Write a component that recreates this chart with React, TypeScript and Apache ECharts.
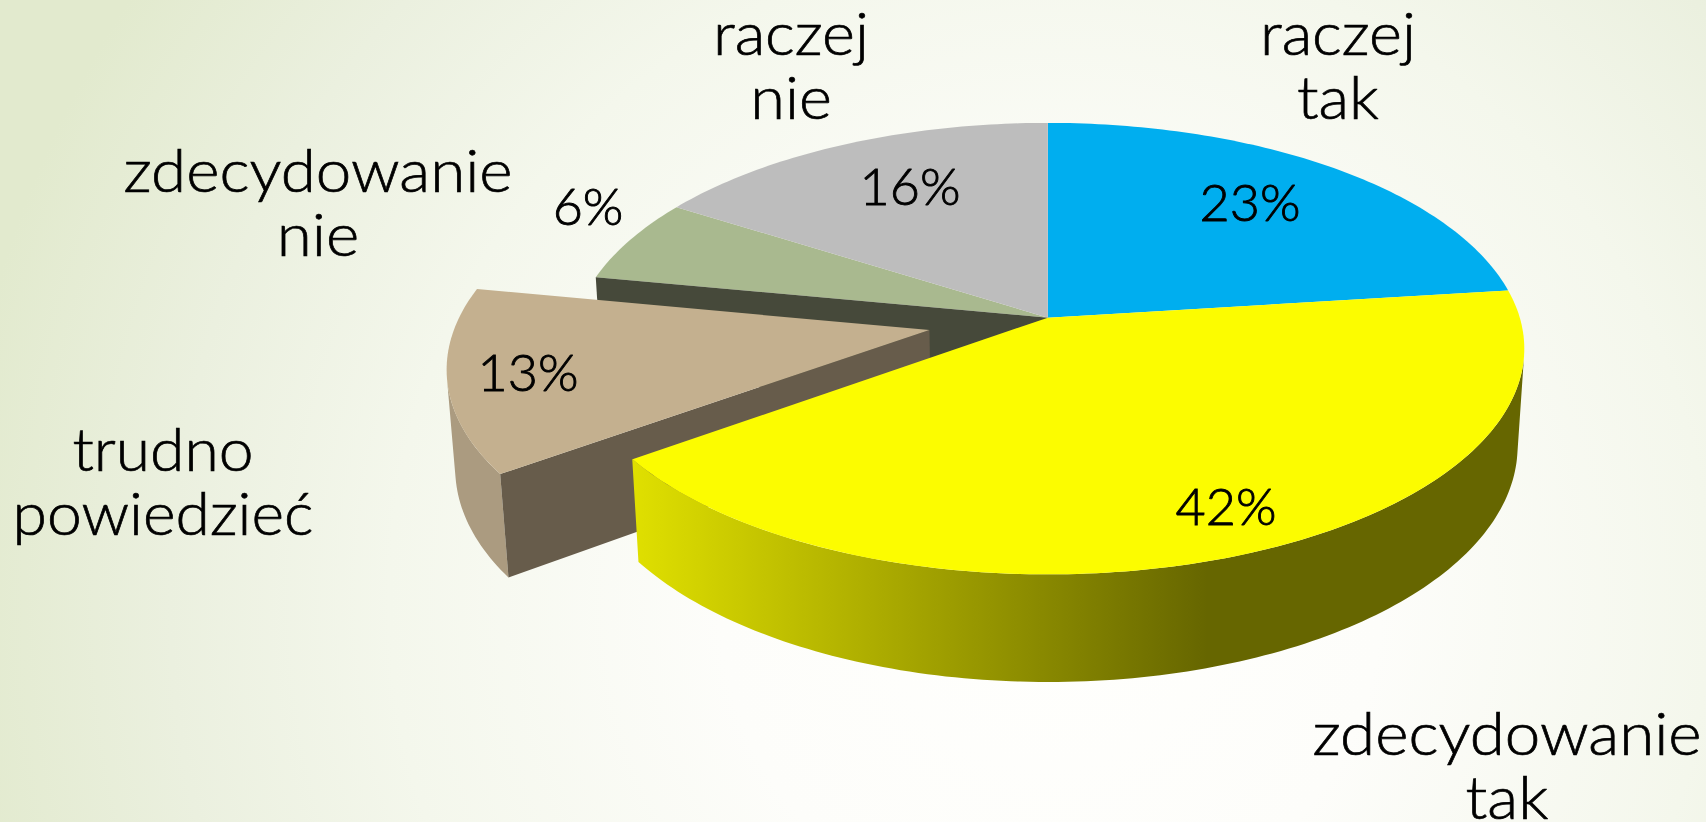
import React, { useEffect, useRef } from "react";
import * as echarts from "echarts";

const categories = ["raczej\ntak", "zdecydowanie\ntak", "trudno\npowiedzieć", "zdecydowanie\nnie", "raczej\nnie"];
const shares = [23, 42, 13, 6, 16];
const explode = [0, 0, 0.255, 0, 0];
const topColors = ["#00AEEF", "#FCFC00", "#C4B08F", "#A9B98F", "#BDBDBD"];

// layout
const W = 1706, H = 822;
const CX = 1047.8, CY = 317.7, RX = 472, RY = 221.5, DEPTH = 98, K = 0.137, M = 0.014;
const FONT = "Lato";
const NAME_SIZE = 60, PCT_SIZE = 52, LINE_H = 64;
const nameScale = [1.05, 1.062, 1.04, 1.062, 1.05];
const PCT_SCALE = 1;
const nameAnchor = [[1338, 54], [1507, 754], [163, 470], [318, 191], [791, 54]];
const pctAnchor = [[1250, 227], [1226, 531], [528, 397], [588, 231], [910, 211]];

const total = shares.reduce((a, b) => a + b, 0);
const TAU = Math.PI * 2;

function proj(u: number, v: number, z: number) {
  const w = 1 - K * v + M * z;
  return [CX + (RX * u) / w, CY + (RY * v + DEPTH * z) / w];
}

function renderItem(params: any, api: any) {
  const i = params.dataIndex;
  const value = api.value(0);
  let before = 0;
  for (let j = 0; j < i; j++) before += shares[j];
  const a0 = (before / total) * TAU;
  const a1 = ((before + value) / total) * TAU;
  const mid = (a0 + a1) / 2;
  const ox = Math.sin(mid) * explode[i];
  const oy = -Math.cos(mid) * explode[i];
  const rim = (a: number, z: number) => proj(Math.sin(a) + ox, -Math.cos(a) + oy, z);
  const hub = (z: number) => proj(ox, oy, z);
  const sweep = (from: number, to: number, z: number) => {
    const n = Math.max(8, Math.round(((to - from) * 180) / Math.PI));
    const pts: number[][] = [];
    for (let s = 0; s <= n; s++) pts.push(rim(from + ((to - from) * s) / n, z));
    return pts;
  };

  const children: any[] = [];
  // The outer wall runs only over the part of the rim that faces the viewer.
  const outerWall = (fill: any, z2: number) => {
    let first = -1;
    let last = -1;
    const d = 0.002;
    for (let a = a0; a < a1; a += d) {
      const t0 = rim(a, 0), t1 = rim(a + d, 0), b0 = rim(a, 1);
      const cross = (t1[0] - t0[0]) * (b0[1] - t0[1]) - (t1[1] - t0[1]) * (b0[0] - t0[0]);
      if (cross < 0) {
        if (first < 0) first = a;
        last = a + d;
      }
    }
    if (first < 0) return;
    children.push({
      type: "polygon",
      z2,
      shape: { points: [...sweep(first, last, 0), ...sweep(first, last, 1).reverse()] },
      style: { fill },
    });
  };
  const radial = (a: number, fill: string, z2: number) =>
    children.push({
      type: "polygon",
      z2,
      shape: { points: [hub(0), rim(a, 0), rim(a, 1), hub(1)] },
      style: { fill },
    });

  let topZ = 10;
  if (i === 1) {
    outerWall(
      {
        type: "linear", x: 632, y: 0, x2: 1207, y2: 0, global: true,
        colorStops: [{ offset: 0, color: "#E0E000" }, { offset: 1, color: "#666600" }],
      },
      30
    );
    topZ = 31;
  }
  if (i === 2) {
    outerWall("#AB9B80", 20);
    radial(a0, "#675C4B", 21);
    topZ = 22;
  }
  if (i === 3) radial(a0, "#46493A", 11);

  children.push({
    type: "polygon",
    z2: topZ,
    shape: { points: [hub(0), ...sweep(a0, a1, 0)] },
    style: { fill: topColors[i] },
  });

  children.push({
    type: "text",
    z2: 40,
    x: nameAnchor[i][0],
    y: nameAnchor[i][1] - 54,
    scaleX: nameScale[i],
    style: {
      text: categories[i],
      fontFamily: FONT,
      fontSize: NAME_SIZE,
      fontWeight: 300,
      lineHeight: LINE_H,
      fill: "#000",
      stroke: "#000",
      lineWidth: 0.7,
      align: "center",
      verticalAlign: "top",
    },
    silent: true,
  });
  children.push({
    type: "text",
    z2: 40,
    x: pctAnchor[i][0],
    y: pctAnchor[i][1],
    scaleX: PCT_SCALE,
    style: {
      text: `${value}%`,
      fontFamily: FONT,
      fontSize: PCT_SIZE,
      fontWeight: 300,
      fill: "#000",
      stroke: "#000",
      lineWidth: 0.9,
      align: "center",
      verticalAlign: "bottom",
    },
    silent: true,
  });
  return { type: "group", children };
}

export default function App() {
  const ref = useRef<HTMLDivElement>(null);
  useEffect(() => {
    document.body.style.margin = "0";
    const chart = echarts.init(ref.current!, null, { renderer: "svg" });
    chart.setOption({
      animation: false,
      backgroundColor: {
        type: "radial",
        x: 1050,
        y: 600,
        r: 1100,
        global: true,
        colorStops: [
          { offset: 0, color: "#FFFFFD" },
          { offset: 0.3, color: "#FDFDFA" },
          { offset: 0.6, color: "#F4F7EC" },
          { offset: 0.8, color: "#EBF0DF" },
          { offset: 1, color: "#E2EACE" },
        ],
      },
      series: [
        {
          type: "custom",
          coordinateSystem: "none",
          renderItem,
          clip: false,
          silent: true,
          data: shares.map((v, i) => [v, i]),
        },
      ],
    });
    return () => chart.dispose();
  }, []);
  return <div ref={ref} style={{ position: "fixed", left: 0, top: 0, width: W, height: H }} />;
}
